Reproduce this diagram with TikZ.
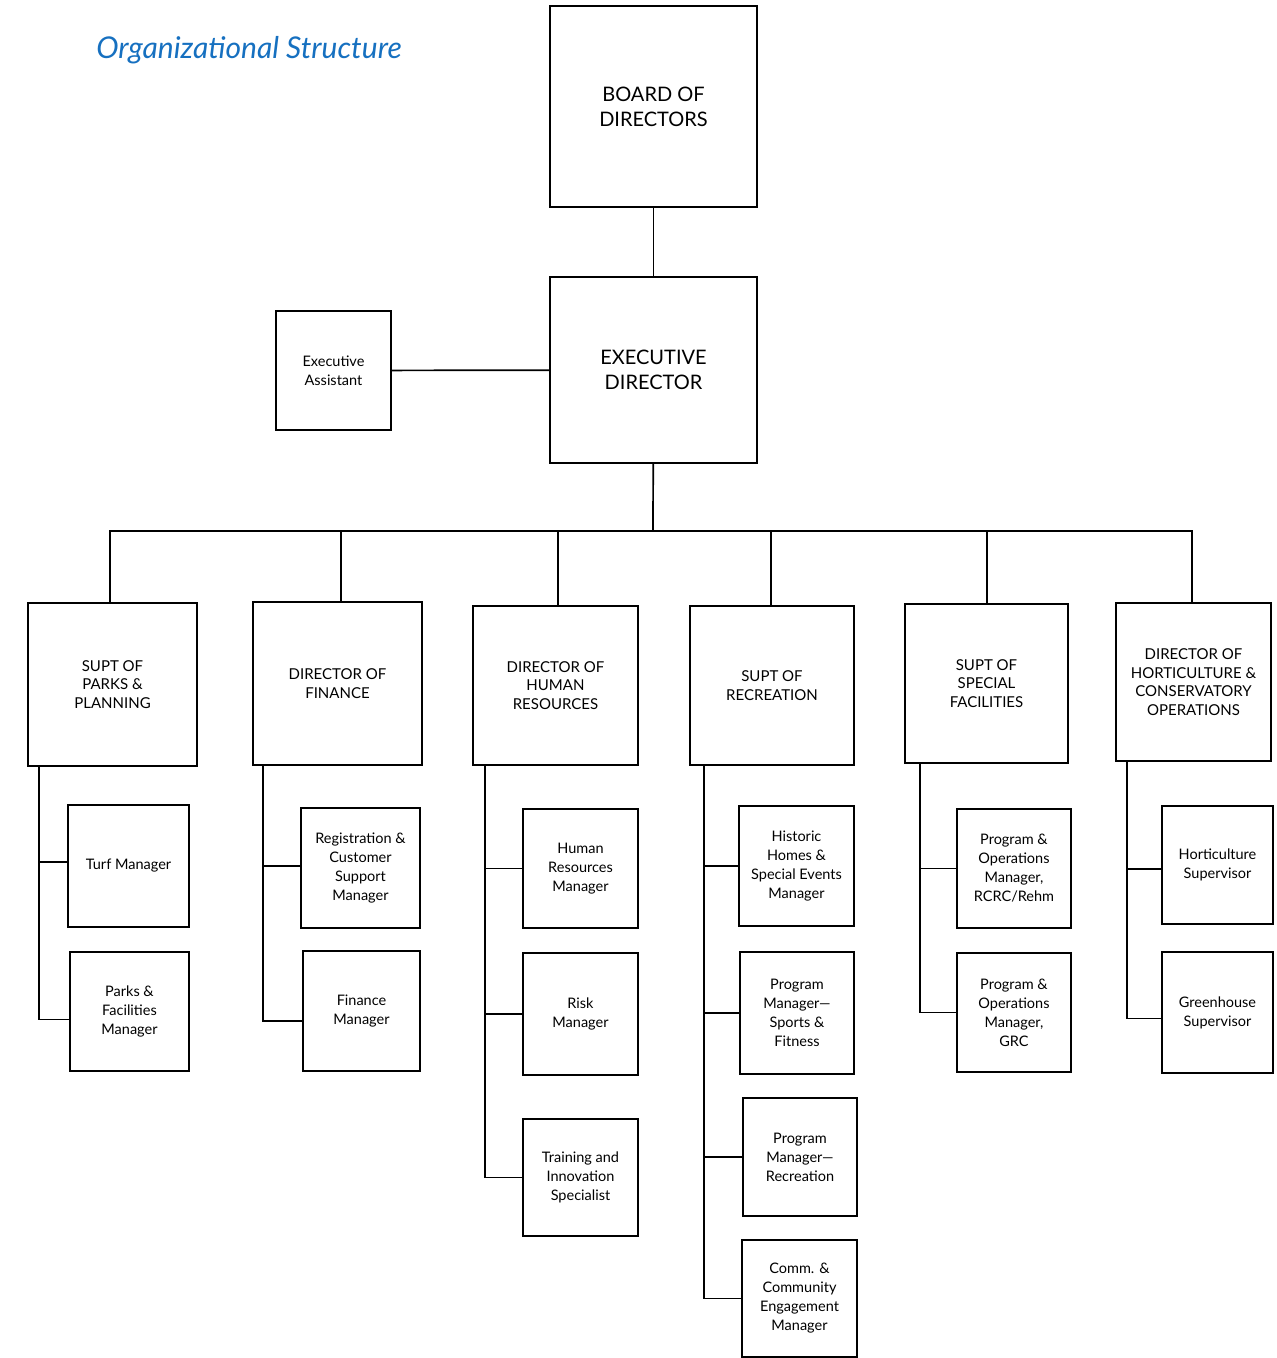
\documentclass[tikz,border=0pt]{standalone}
\usepackage{fontspec}
\setmainfont{Lato}
\usepackage{tikz}

\definecolor{titleblue}{RGB}{22,112,192}

\begin{document}
\begin{tikzpicture}[x=1pt, y=-1pt,
    box/.style={draw, line width=2.4pt, align=center, inner sep=0pt, font=\fontsize{14.5}{19}\selectfont},
    head/.style={box, font=\fontsize{15}{18.5}\selectfont},
    top/.style={box, font=\fontsize{20}{25}\selectfont},
    link/.style={line width=1.7pt}]
        \useasboundingbox (0,0) rectangle (1277,1358);

        \node[titleblue, font=\fontsize{30}{30}\itshape] (title) at (249,50) {Organizational Structure};

        % top of the chart
        \node[top, minimum width=207, minimum height=201] (board) at (653.5,106.5) {BOARD OF\\DIRECTORS};
        \node[top, minimum width=207, minimum height=186] (exec) at (653.5,370) {EXECUTIVE\\DIRECTOR};
        \node[box, minimum width=115, minimum height=119] (asst) at (333.5,370.5) {Executive\\Assistant};
        \coordinate (bus) at (653,531);

        \draw[link] (board) -- (exec);
        \draw[link] (asst) -- (exec);
        \draw[link] (exec) -- (bus);

        % department heads
        \node[head, minimum width=169, minimum height=163] (parks) at (112.5,684.5) {SUPT OF\\PARKS \&\\PLANNING};
        \node[head, minimum width=169, minimum height=163] (fin) at (337.5,683.5) {DIRECTOR OF\\FINANCE};
        \node[head, minimum width=165, minimum height=159] (hr) at (555.5,685.5) {DIRECTOR OF\\HUMAN\\RESOURCES};
        \node[head, minimum width=164, minimum height=159] (rec) at (772,685.5) {SUPT OF\\RECREATION};
        \node[head, minimum width=163, minimum height=159] (spec) at (986.5,683.5) {SUPT OF\\SPECIAL\\FACILITIES};
        \node[head, minimum width=155, minimum height=158] (hort) at (1193.5,682) {DIRECTOR OF\\HORTICULTURE \&\\CONSERVATORY\\OPERATIONS};

        \draw[link] ([xshift=-2.5]parks.north) |- (bus) -| ([xshift=-1.5]hort.north);
        \foreach \d/\s in {fin/3.5, hr/2.5, rec/-1, spec/0.5}
            \draw[link] ([xshift=\s]\d.north) -- ([xshift=\s]\d.north |- bus);

        % parks & planning
        \node[box, minimum width=121, minimum height=122] (turf) at (128.5,866) {Turf Manager};
        \node[box, minimum width=119, minimum height=119] (pfm) at (129.5,1011.5) {Parks \&\\Facilities\\Manager};
        \draw[link] ([xshift=12]parks.south west) |- ([yshift=4]turf.west);
        \draw[link] ([xshift=12]parks.south west) |- ([yshift=-8]pfm.west);

        % finance
        \node[box, minimum width=119, minimum height=120] (reg) at (360.5,868) {Registration \&\\Customer\\Support\\Manager};
        \node[box, minimum width=117, minimum height=120] (finm) at (361.5,1011) {Finance\\Manager};
        \draw[link] ([xshift=11]fin.south west) |- ([yshift=2]reg.west);
        \draw[link] ([xshift=11]fin.south west) |- ([yshift=-10]finm.west);

        % human resources
        \node[box, minimum width=115, minimum height=119] (hrm) at (580.5,868.5) {Human\\Resources\\Manager};
        \node[box, minimum width=115, minimum height=122] (risk) at (580.5,1014) {Risk\\Manager};
        \node[box, minimum width=115, minimum height=117] (train) at (580.5,1177.5) {Training and\\Innovation\\Specialist};
        \foreach \s in {hrm, risk, train}
            \draw[link] ([xshift=13]hr.south west) |- (\s.west);

        % recreation
        \node[box, minimum width=115, minimum height=120] (hist) at (796.5,866) {Historic\\Homes \&\\Special Events\\Manager};
        \node[box, minimum width=114, minimum height=122] (sport) at (797,1013) {Program\\Manager---\\Sports \&\\Fitness};
        \node[box, minimum width=114, minimum height=118] (prec) at (800,1157) {Program\\Manager---\\Recreation};
        \node[box, minimum width=115, minimum height=117] (comm) at (799.5,1298.5) {Comm. \&\\Community\\Engagement\\Manager};
        \foreach \s in {hist, sport, prec, comm}
            \draw[link] ([xshift=15]rec.south west) |- (\s.west);

        % special facilities
        \node[box, minimum width=114, minimum height=119] (rcrc) at (1014,868.5) {Program \&\\Operations\\Manager,\\RCRC/Rehm};
        \node[box, minimum width=114, minimum height=119] (grc) at (1014,1012.5) {Program \&\\Operations\\Manager,\\GRC};
        \foreach \s in {rcrc, grc}
            \draw[link] ([xshift=16]spec.south west) |- (\s.west);

        % horticulture & conservatory
        \node[box, minimum width=111, minimum height=118] (hsup) at (1217.5,865) {Horticulture\\Supervisor};
        \node[box, minimum width=111, minimum height=121] (ghs) at (1217.5,1012.5) {Greenhouse\\Supervisor};
        \draw[link] ([xshift=12]hort.south west) |- ([yshift=-4]hsup.west);
        \draw[link] ([xshift=12]hort.south west) |- ([yshift=-6]ghs.west);
    \end{tikzpicture}
\end{document}
